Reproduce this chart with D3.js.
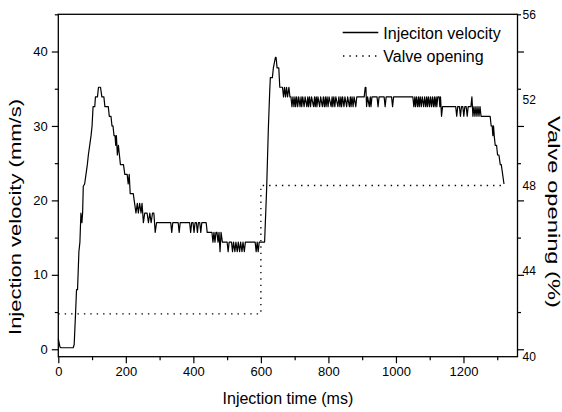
<!DOCTYPE html>
<html><head><meta charset="utf-8">
<script src="https://cdn.jsdelivr.net/npm/d3@7"></script>
<style>
body{margin:0;background:#fff}
svg{display:block}
text{font-family:Arial,"Liberation Sans",Helvetica,sans-serif;fill:#000}
</style>
</head><body>
<svg id="chart" width="562" height="412"></svg>
<script>
// ---------------- data ----------------
const timeMs = [
  0,5,8,44,47,51,54,57,61,64,67,70,72,74,78,82,86,89,93,97,100,103,108,110,116,119,125,
  129,135,138,148,151,156,159,162,165,168,170,172,175,178,181,184,193,197,204,207,210,213,222,226,230,234,237,241,245,248,252,256,263,267,271,275,279,283,287,291,
  333,336,339,355,358,361,389,392,395,399,402,405,409,412,415,419,422,425,438,441,
  455,458,461,464,467,470,473,476,479,482,486,500,503,506,513,516,519,523,526,530,533,537,540,544,547,551,554,583,586,589,592,595,611,
  617,622,626,628,634,637,643,645,648,653,656,664,667,670,673,676,679,683,686,689,
  692,695,698,701,703,706,709,712,716,719,721,724,728,731,736,739,741,744,747,750,756,759,761,764,766,769,774,777,782,785,788,791,793,796,799,802,808,811,813,816,819,822,828,831,834,837,839,842,846,849,854,857,862,865,867,870,873,876,881,884,
  906,909,911,913,916,921,924,926,929,944,947,950,965,968,971,987,990,993,
  1050,1053,1056,1058,1061,1064,1067,1069,1072,1075,1078,1082,1085,1088,1091,1093,1096,1099,1102,1105,1108,1111,1114,1116,1119,1121,1124,
  1128,1130,1132,1135,1138,1177,1180,1183,1188,1191,1194,1198,1201,1204,1208,1211,1214,1222,1225,1228,1231,1234,1237,1240,1243,1246,1249,1252,1279,1282,1285,1287,1289,1291,1294,1298,1301,1305,1309,1312,1320
];
const velocity = [
  1.4,0.3,0.2,0.2,0.6,4.7,8.0,8.0,13.1,14.4,18.3,17.0,18.3,21.9,22.2,23.5,24.8,26.1,27.4,28.7,30.0,32.6,32.6,33.9,33.9,35.2,35.2,
  33.9,33.9,32.6,32.6,31.3,31.3,30.0,30.0,28.7,28.7,27.4,28.7,26.1,27.4,26.1,24.8,24.8,23.5,23.5,22.2,23.5,20.9,20.9,19.6,18.3,19.6,18.3,19.6,18.3,19.6,17.0,18.3,18.3,17.0,18.3,17.0,18.3,18.3,15.7,17.0,
  17.0,15.7,17.0,17.0,15.7,17.0,17.0,15.7,17.0,17.0,15.7,17.0,17.0,15.7,17.0,17.0,15.7,17.0,17.0,15.7,
  15.7,14.4,15.7,14.4,15.7,15.7,14.4,15.7,13.1,15.7,14.4,14.4,13.1,14.4,14.4,13.1,14.4,13.1,14.4,13.1,14.4,13.1,14.4,13.1,14.4,13.1,14.4,14.4,13.1,14.4,13.1,14.4,14.4,
  21.5,29.5,34.5,36.5,36.5,37.8,39.2,39.2,37.8,37.8,35.2,35.2,33.9,35.2,33.9,35.2,33.9,35.2,33.9,33.9,
  32.6,33.9,32.6,33.9,32.6,33.9,32.6,33.9,32.6,33.9,32.6,33.9,32.6,33.9,32.6,33.9,32.6,33.9,32.6,33.9,32.6,33.9,32.6,33.9,32.6,33.9,32.6,33.9,32.6,33.9,32.6,33.9,32.6,33.9,32.6,33.9,32.6,33.9,32.6,33.9,32.6,33.9,32.6,33.9,32.6,33.9,32.6,33.9,32.6,33.9,32.6,33.9,32.6,33.9,32.6,33.9,32.6,33.9,32.6,33.9,
  33.9,35.2,35.2,32.6,33.9,32.6,33.9,32.6,33.9,33.9,32.6,33.9,33.9,32.6,33.9,33.9,32.6,33.9,
  33.9,32.6,33.9,32.6,33.9,32.6,33.9,32.6,33.9,32.6,33.9,32.6,33.9,32.6,33.9,32.6,33.9,32.6,33.9,32.6,33.9,32.6,33.9,32.6,33.9,32.6,33.9,
  33.9,32.6,33.9,31.3,32.6,32.6,31.3,32.6,32.6,31.3,32.6,32.6,31.3,32.6,32.6,31.3,32.6,32.6,33.9,31.3,32.6,31.3,32.6,31.3,32.6,31.3,32.6,31.3,31.3,30.0,30.0,28.7,30.0,28.7,27.4,27.4,26.1,26.1,24.8,24.8,22.2
];
const valveTime = [0, 600, 600, 1320];
const valveOpening = [42, 42, 48, 48];

const xTicks = [0, 200, 400, 600, 800, 1000, 1200];
const xMinorTicks = [100, 300, 500, 700, 900, 1100, 1300];
const leftTicks = [0, 10, 20, 30, 40];
const leftMinorTicks = [5, 15, 25, 35, 45];
const rightTicks = [40, 44, 48, 52, 56];
const seriesNames = ["Injeciton velocity", "Valve opening"];
const xTitle = "Injection time (ms)";
const yTitle = "Injection velocity (mm/s)";
const y2Title = "Valve opening (%)";

// ---------------- layout ----------------
const L = 58.3, R = 517.5, T = 14.3, B = 356.7;
const svg = d3.select("#chart");
const x = d3.scaleLinear().domain([0, 1360]).range([L, R]);
const yL = d3.scaleLinear().domain([-1, 45]).range([B, T]);
const yR = d3.scaleLinear().domain([40, 56]).range([B, T]);

const velData = timeMs.map((t, i) => [t, velocity[i]]);
const valveData = valveTime.map((t, i) => [t, valveOpening[i]]);

// curves
svg.append("path")
  .datum(valveData)
  .attr("fill", "none").attr("stroke", "#000").attr("stroke-width", 1.3)
  .attr("stroke-dasharray", "1.4,5")
  .attr("d", d3.line().x(d => x(d[0])).y(d => yR(d[1])));

svg.append("path")
  .datum(velData)
  .attr("fill", "none").attr("stroke", "#000").attr("stroke-width", 1.2)
  .attr("stroke-linejoin", "round")
  .attr("d", d3.line().x(d => x(d[0])).y(d => yL(d[1])));

// axes
function clean(g){ g.select(".domain").remove(); g.selectAll("line").attr("stroke","#000").attr("stroke-width",1.2); }
const FONT = "Arial,'Liberation Sans',sans-serif";

svg.append("g").attr("transform", `translate(0,${B})`)
  .call(d3.axisBottom(x).tickValues(xMinorTicks).tickSize(3.5).tickFormat(""))
  .call(clean);
svg.append("g").attr("transform", `translate(0,${B})`)
  .call(d3.axisBottom(x).tickValues(xTicks).tickSize(6.5).tickPadding(4).tickFormat(d3.format("d")))
  .call(clean)
  .call(g => g.selectAll("text").attr("font-size", 13).attr("font-family", FONT));

svg.append("g").attr("transform", `translate(${L},0)`)
  .call(d3.axisLeft(yL).tickValues(leftMinorTicks).tickSize(3.5).tickFormat(""))
  .call(clean);
svg.append("g").attr("transform", `translate(${L},0)`)
  .call(d3.axisLeft(yL).tickValues(leftTicks).tickSize(6.5).tickPadding(4).tickFormat(d3.format("d")))
  .call(clean)
  .call(g => g.selectAll("text").attr("font-size", 13).attr("font-family", FONT));

svg.append("g").attr("transform", `translate(${R},0)`)
  .call(d3.axisRight(yL).tickValues(leftMinorTicks).tickSize(3.5).tickFormat(""))
  .call(clean);
svg.append("g").attr("transform", `translate(${R},0)`)
  .call(d3.axisRight(yL).tickValues(leftTicks).tickSize(6.5).tickFormat(""))
  .call(clean);
svg.append("g").attr("transform", `translate(${R},0)`)
  .call(d3.axisRight(yR).tickValues(rightTicks).tickSize(0).tickPadding(5).tickFormat(d3.format("d")))
  .call(clean)
  .call(g => g.selectAll("text").attr("font-size", 12).attr("font-family", FONT));

// frame
svg.append("rect").attr("x", L).attr("y", T).attr("width", R - L).attr("height", B - T)
  .attr("fill", "none").attr("stroke", "#000").attr("stroke-width", 1.3);

// titles
svg.append("text").attr("x", (L + R) / 2).attr("y", 404).attr("text-anchor", "middle")
  .attr("font-size", 16).text(xTitle);
svg.append("text").attr("transform", "translate(21,217) rotate(-90)").attr("text-anchor", "middle")
  .attr("font-size", 16).attr("textLength", 236).attr("lengthAdjust", "spacingAndGlyphs").text(yTitle);
svg.append("text").attr("transform", "translate(547.5,212) rotate(90)").attr("text-anchor", "middle")
  .attr("font-size", 16).attr("textLength", 192).attr("lengthAdjust", "spacingAndGlyphs").text(y2Title);

// legend
const lg = svg.append("g");
lg.append("line").attr("x1", 342.7).attr("x2", 378.3).attr("y1", 32.5).attr("y2", 32.5)
  .attr("stroke", "#000").attr("stroke-width", 1.3);
lg.append("text").attr("x", 383.3).attr("y", 38.5).attr("font-size", 16).text(seriesNames[0]);
lg.append("line").attr("x1", 343).attr("x2", 378.3).attr("y1", 56).attr("y2", 56)
  .attr("stroke", "#000").attr("stroke-width", 1.3).attr("stroke-dasharray", "1.4,5");
lg.append("text").attr("x", 383.3).attr("y", 61.8).attr("font-size", 16).text(seriesNames[1]);
</script>
</body></html>
